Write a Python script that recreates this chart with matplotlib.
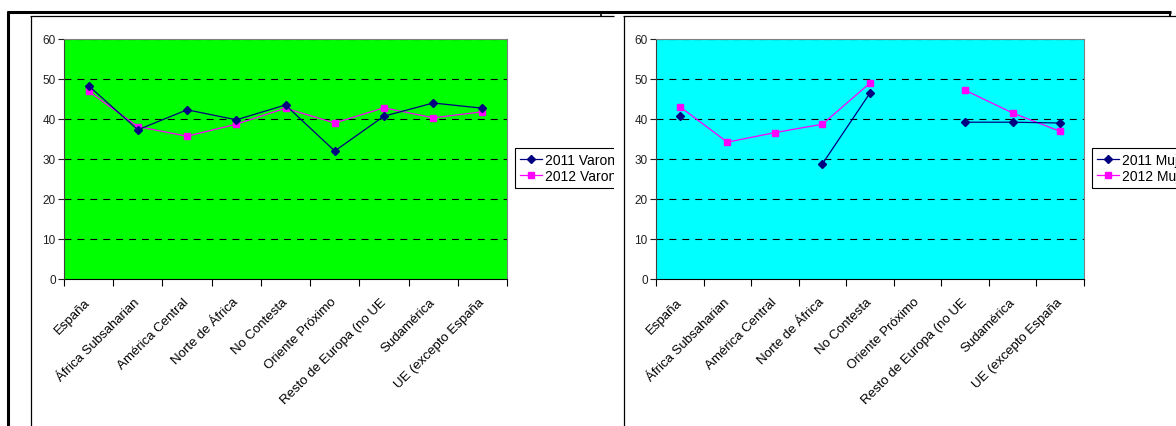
import matplotlib
matplotlib.use("Agg")
import matplotlib.pyplot as plt
import numpy as np
from matplotlib.lines import Line2D
from matplotlib.patches import Rectangle

plt.rcParams['font.family'] = ['Liberation Sans', 'DejaVu Sans']
plt.rcParams['lines.scale_dashes'] = False

# categorias (tal como se ven, recortadas)
categorias = ["España", "África Subsaharian", "América Central", "Norte de África",
              "No Contesta", "Oriente Próximo", "Resto de Europa (no UE",
              "Sudamérica", "UE (excepto España"]

varones_2011 = [48.3, 37.3, 42.3, 39.8, 43.5, 32.0, 40.7, 44.0, 42.7]
varones_2012 = [46.9, 38.1, 35.7, 38.7, 42.7, 39.0, 42.8, 40.3, 41.8]

mujeres_2011 = [40.8, np.nan, np.nan, 28.8, 46.5, np.nan, 39.2, 39.2, 39.0]
mujeres_2012 = [43.1, 34.2, 36.6, 38.7, 49.0, np.nan, 47.2, 41.5, 36.9]

W, H = 1176, 427
fig = plt.figure(figsize=(W / 100, H / 100), dpi=100)


def px(x0, y0, x1, y1):
    # caja en pixeles (origen arriba-izquierda) -> fracciones de figura
    return [x0 / W, 1 - y1 / H, (x1 - x0) / W, (y1 - y0) / H]


def grafico(ax, s2011, s2012, lab2011, lab2012, fondo, leg_x):
    x = np.arange(len(categorias))
    ax.set_facecolor(fondo)
    for y in range(10, 70, 10):
        ax.axhline(y, color='black', lw=0.8, dashes=(5, 4.3), zorder=1)
    ax.plot(x, s2011, color='#000080', lw=0.9, marker='D', ms=4.3, label=lab2011, zorder=3)
    ax.plot(x, s2012, color='#FF00FF', lw=0.9, marker='s', ms=4.5, label=lab2012, zorder=2)
    ax.set_xlim(-0.5, 8.5)
    ax.set_ylim(0, 60)
    ax.set_yticks(range(0, 70, 10))
    ax.tick_params(axis='y', labelsize=8.5, length=4, width=0.8, pad=2, colors='#202020')
    ax.set_xticks(np.arange(-0.5, 9, 1))
    ax.set_xticklabels([])
    ax.tick_params(axis='x', which='major', length=5, width=0.8, direction='out')
    ax.set_xticks(x, minor=True)
    ax.set_xticklabels(categorias, minor=True, rotation=45, ha='right', va='center',
                       rotation_mode='anchor', fontsize=9.5)
    ax.tick_params(axis='x', which='minor', length=0, pad=15)
    ax.spines['left'].set_color('#404040')
    ax.spines['bottom'].set_color('black')
    ax.spines['top'].set_color('#808080')
    ax.spines['right'].set_color('#808080')
    leg = ax.legend(loc='upper left', bbox_to_anchor=(leg_x / W, 1 - 149 / H),
                    bbox_transform=fig.transFigure, borderaxespad=0, fancybox=False,
                    edgecolor='black', framealpha=1, fontsize=10, handlelength=1.6,
                    handletextpad=0.2, labelspacing=0.15, borderpad=0.35)
    leg.get_frame().set_linewidth(0.8)


ax1 = fig.add_axes(px(64, 40, 507, 280), zorder=1)
grafico(ax1, varones_2011, varones_2012, "2011 Varones", "2012 Varones", '#00FF00', 515)

# el segundo grafico tapa lo que sobresale del primero
fig.add_artist(Rectangle((614 / W, 0), (W - 614) / W, 1 - 17 / H, transform=fig.transFigure,
                         facecolor='white', edgecolor='none', zorder=1.5))

ax2 = fig.add_axes(px(656, 40, 1084, 280), zorder=2)
grafico(ax2, mujeres_2011, mujeres_2012, "2011 Mujeres", "2012 Mujeres", '#00FFFF', 1092)


def linea(x0, y0, x1, y1, lw):
    fig.add_artist(Line2D([x0 / W, x1 / W], [1 - y0 / H, 1 - y1 / H], transform=fig.transFigure,
                          color='black', lw=lw, zorder=5, solid_capstyle='butt'))


# bordes de la hoja
linea(7, 12.5, 1171, 12.5, 2.2)
linea(7.5, 11.5, 7.5, H, 2.2)
linea(1170, 12, 1170, 17, 1.5)
linea(601, 12, 601, 17, 1.2)
linea(30, 16.5, 614, 16.5, 0.9)
linea(623, 16.5, W, 16.5, 0.9)
linea(30.5, 16.5, 30.5, H, 0.9)
linea(623.5, 16.5, 623.5, H, 0.9)

fig.savefig("out.png", dpi=100)
